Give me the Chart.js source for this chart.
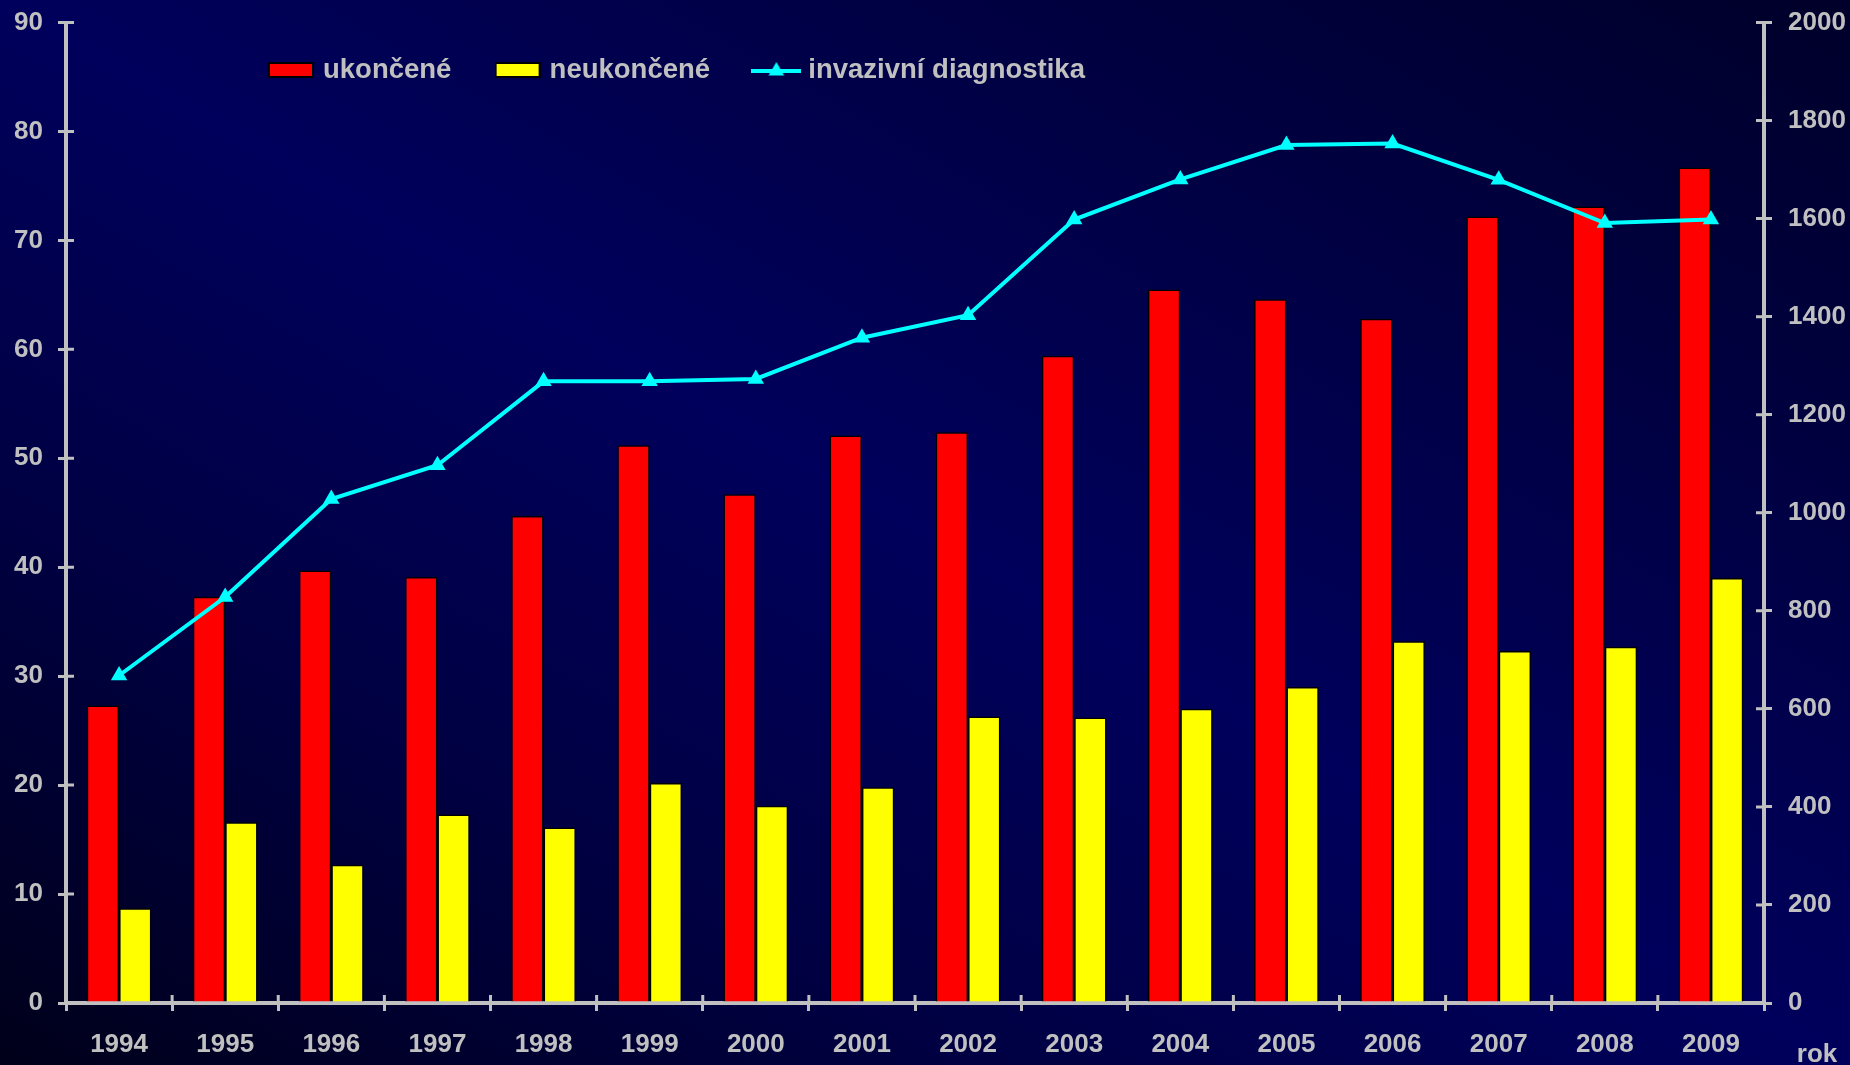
<!DOCTYPE html>
<html>
<head>
<meta charset="utf-8">
<script src="https://cdn.jsdelivr.net/npm/chart.js@4"></script>
<style>
  html, body { margin: 0; padding: 0; width: 1850px; height: 1065px; overflow: hidden; }
  body { background: linear-gradient(to top right, #00001a 0%, #000042 26%, #00005c 50%, #000046 72%, #00002a 100%); }
  #wrap { position: absolute; left: 0; top: 0; width: 1850px; height: 1065px; }
</style>
</head>
<body>
<div id="wrap"><canvas id="c" width="1850" height="1065"></canvas></div>
<script>
const years = ['1994','1995','1996','1997','1998','1999','2000','2001','2002','2003','2004','2005','2006','2007','2008','2009'];
const ukoncene = [27.3, 37.3, 39.7, 39.1, 44.7, 51.2, 46.7, 52.1, 52.4, 59.4, 65.5, 64.6, 62.8, 72.2, 73.1, 76.7];
const neukoncene = [8.7, 16.6, 12.7, 17.3, 16.1, 20.2, 18.1, 19.8, 26.3, 26.2, 27.0, 29.0, 33.2, 32.3, 32.7, 39.0];
const invazivni = [668, 828, 1028, 1097, 1268, 1268, 1273, 1357, 1403, 1598, 1680, 1750, 1753, 1679, 1591, 1598];
const seriesLabels = ['ukončené', 'neukončené', 'invazivní diagnostika'];
const axisTitleX = 'rok';

const GRAY = '#C0C0C0';
const FONT = 'Liberation Sans, Arial, sans-serif';
const LEG_FS = 27.5;

function boxImg(fill) {
  const c = document.createElement('canvas');
  c.width = 46; c.height = 16;
  const g = c.getContext('2d');
  g.fillStyle = '#000000'; g.fillRect(0, 0, 46, 16);
  g.fillStyle = fill; g.fillRect(2, 2, 42, 12);
  return c;
}
function lineSample() {
  const c = document.createElement('canvas');
  c.width = 50; c.height = 20;
  const g = c.getContext('2d');
  g.strokeStyle = '#00FFFF'; g.lineWidth = 4;
  g.beginPath(); g.moveTo(0, 11); g.lineTo(50, 11); g.stroke();
  g.fillStyle = '#00FFFF';
  const r = 9, cx = 25, cy = 11;
  g.beginPath();
  g.moveTo(cx, cy - r);
  g.lineTo(cx - r * 0.866, cy + r / 2);
  g.lineTo(cx + r * 0.866, cy + r / 2);
  g.closePath(); g.fill();
  return c;
}
const legendImgs = [boxImg('#FF0000'), boxImg('#FFFF00'), lineSample()];

const LEG_PAD = 48;
const LEG_BOXW = 36.5;
const legendPlace = {
  id: 'legendPlace',
  afterLayout(chart) {
    const lg = chart.legend;
    if (!lg) return;
    lg.left = 272.75 - LEG_PAD;
    lg.right = 1500;
    lg.width = lg.right - lg.left;
    lg.top = 70 - LEG_FS / 2 - LEG_PAD;
    lg.bottom = lg.top + 130;
    lg.height = 130;
  }
};

const crossTicks = {
  id: 'crossTicks',
  afterDraw(chart) {
    const ctx = chart.ctx;
    const {y, y2, x} = chart.scales;
    ctx.save();
    ctx.strokeStyle = GRAY;
    ctx.lineWidth = 3;
    ctx.beginPath();
    y.ticks.forEach((t, i) => {
      const py = y.getPixelForTick(i);
      ctx.moveTo(y.right, py); ctx.lineTo(y.right + 8, py);
    });
    y2.ticks.forEach((t, i) => {
      const py = y2.getPixelForTick(i);
      ctx.moveTo(y2.left, py); ctx.lineTo(y2.left - 8, py);
    });
    const n = x.ticks.length;
    const step = (x.right - x.left) / n;
    for (let i = 0; i <= n; i++) {
      const px = x.left + i * step;
      ctx.moveTo(px, x.top); ctx.lineTo(px, x.top - 8);
    }
    ctx.stroke();
    ctx.fillStyle = GRAY;
    ctx.font = 'bold 26px ' + FONT;
    ctx.textAlign = 'center';
    ctx.textBaseline = 'middle';
    ctx.fillText(axisTitleX, 1817, 1055);
    ctx.restore();
  }
};

const tickFont = { family: FONT, size: 26, weight: 'bold' };
const yTickFont = { family: FONT, size: 26, weight: 'bold', lineHeight: 0.5 };

new Chart(document.getElementById('c'), {
  data: {
    labels: years,
    datasets: [
      { type: 'bar', label: seriesLabels[0], data: ukoncene, yAxisID: 'y',
        backgroundColor: '#FF0000', borderColor: '#000000', borderWidth: 1.5, order: 2,
        categoryPercentage: 0.61, barPercentage: 1.0 },
      { type: 'bar', label: seriesLabels[1], data: neukoncene, yAxisID: 'y',
        backgroundColor: '#FFFF00', borderColor: '#000000', borderWidth: 1.5, order: 3,
        categoryPercentage: 0.61, barPercentage: 1.0 },
      { type: 'line', label: seriesLabels[2], data: invazivni, yAxisID: 'y2',
        borderColor: '#00FFFF', backgroundColor: '#00FFFF', borderWidth: 4,
        pointStyle: 'triangle', pointRadius: 9.5, pointBorderWidth: 0,
        pointBackgroundColor: '#00FFFF', tension: 0, order: 0 }
    ]
  },
  options: {
    responsive: false,
    devicePixelRatio: 1,
    animation: false,
    layout: { padding: { top: 20, left: 0, right: 0, bottom: 0 } },
    plugins: {
      tooltip: { enabled: false },
      legend: {
        display: true,
        position: 'top',
        align: 'start',
        maxHeight: 1,
        labels: {
          color: GRAY,
          font: { family: FONT, size: LEG_FS, weight: 'bold' },
          padding: LEG_PAD,
          usePointStyle: true,
          pointStyleWidth: LEG_BOXW,
          boxWidth: LEG_BOXW,
          boxHeight: 14,
          generateLabels(chart) {
            return chart.data.datasets.map((ds, i) => ({
              text: ds.label,
              fillStyle: ds.backgroundColor,
              strokeStyle: '#000000',
              lineWidth: 0,
              pointStyle: legendImgs[i],
              fontColor: GRAY,
              hidden: false,
              datasetIndex: i
            }));
          }
        }
      }
    },
    scales: {
      x: {
        type: 'category',
        offset: true,
        grid: { display: true, offset: true, drawOnChartArea: false, drawTicks: true,
                tickLength: 8, color: GRAY, lineWidth: 3 },
        border: { display: true, color: GRAY, width: 4 },
        ticks: { color: GRAY, font: tickFont, padding: 18, maxRotation: 0, autoSkip: false },
        afterFit(s) { s.height = 62; }
      },
      y: {
        type: 'linear', position: 'left', min: 0, max: 90,
        grid: { display: true, drawOnChartArea: false, drawTicks: true, tickLength: 8,
                color: GRAY, lineWidth: 3 },
        border: { display: true, color: GRAY, width: 4 },
        ticks: { stepSize: 10, color: GRAY, font: yTickFont, padding: 15,
                 callback: (v) => String(v) },
        afterFit(s) { s.width = 66; }
      },
      y2: {
        type: 'linear', position: 'right', min: 0, max: 2000,
        grid: { display: true, drawOnChartArea: false, drawTicks: true, tickLength: 8,
                color: GRAY, lineWidth: 3 },
        border: { display: true, color: GRAY, width: 4 },
        ticks: { stepSize: 200, color: GRAY, font: yTickFont, padding: 16,
                 callback: (v) => String(v) },
        afterFit(s) { s.width = 86; }
      }
    }
  },
  plugins: [legendPlace, crossTicks]
});
</script>
</body>
</html>
